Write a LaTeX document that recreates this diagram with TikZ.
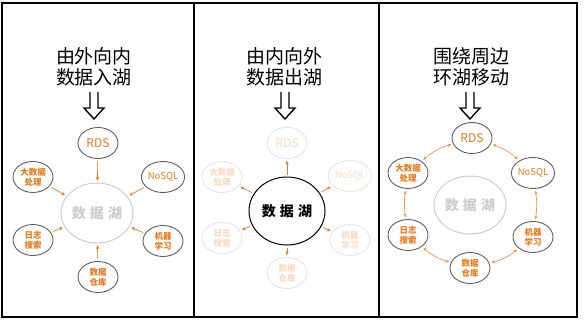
\documentclass[tikz,border=0pt]{standalone}
\usepackage{fontspec}
\setmainfont{Noto Sans CJK SC}
\newfontfamily\cnfont{Noto Sans CJK SC}
\newfontfamily\lakefont[LetterSpace=30]{Noto Sans CJK SC}
\usetikzlibrary{shapes.geometric,arrows.meta,positioning}
\definecolor{LakeOrange}{RGB}{232,122,28}
\definecolor{RingGray}{RGB}{95,95,95}
\definecolor{PaleGray}{RGB}{205,205,205}
\tikzset{
  srcbox/.style={ellipse,draw=RingGray,line width=0.9pt,inner sep=0pt,
                 minimum width=40pt,minimum height=31pt,text=LakeOrange,
                 align=center,font=\cnfont\bfseries\fontsize{8.5}{10}\selectfont},
  fadebox/.style={srcbox,draw=black!10,text=LakeOrange!28},
  lakebox/.style={ellipse,draw=PaleGray,line width=1pt,inner sep=0pt,
                  minimum width=72pt,minimum height=60pt,text=PaleGray,
                  font=\lakefont\bfseries\fontsize{14}{14}\selectfont},
  title/.style={align=center,font=\cnfont\fontsize{19}{21}\selectfont},
  bigtxt/.style={font=\cnfont\fontsize{12}{12}\selectfont},
  midtxt/.style={font=\cnfont\fontsize{9.5}{10}\selectfont},
  flow/.style={-{Stealth[length=3.5pt,width=3.5pt]},LakeOrange,line width=0.7pt,
               shorten >=2pt,shorten <=2pt},
  ring/.style={{Stealth[length=3.5pt,width=3.5pt]}-{Stealth[length=3.5pt,width=3.5pt]},
               LakeOrange!80,line width=0.7pt,shorten >=2pt,shorten <=2pt},
  hollow/.style={line width=1.4pt,line join=miter},
}

\begin{document}
\begin{tikzpicture}[x=1pt,y=-1pt]
    \useasboundingbox (0,0) rectangle (584,321);

    % Frame and dividers
    \draw[line width=1.8pt] (2,3) rectangle (577,317);
    \draw[line width=1.4pt] (194,3) -- (194,317);
    \draw[line width=1.4pt] (379,3) -- (379,317);

    % Panel 1: into the lake
    \node[title] (t1) at (94,67) {由外向内\\数据入湖};
    \draw[hollow] (90,92) -- (90,108) -- (84,108) -- (94,119) -- (104,108) -- (98,108) -- (98,92);
    \node[lakebox] (lake1) at (97,213) {数据湖};
    \node[srcbox,bigtxt] (rds1) at (98,143) {RDS};
    \node[srcbox] (big1) at (33,177) {大数据\\处理};
    \node[srcbox,midtxt] (nosql1) at (163,177) {NoSQL};
    \node[srcbox] (log1) at (33,240) {日志\\搜索};
    \node[srcbox] (ml1) at (163,241) {机器\\学习};
    \node[srcbox] (dw1) at (98,277) {数据\\仓库};
    \draw[flow] (rds1) -- (lake1);
    \draw[flow] (big1) -- (lake1);
    \draw[flow] (nosql1) -- (lake1);
    \draw[flow] (log1) -- (lake1);
    \draw[flow] (ml1) -- (lake1);
    \draw[flow] (dw1) -- (lake1);

    % Panel 2: out of the lake
    \node[title] (t2) at (284,67) {由内向外\\数据出湖};
    \draw[hollow] (281,92) -- (281,108) -- (275,108) -- (285,119) -- (295,108) -- (289,108) -- (289,92);
    \node[lakebox,draw=black,text=black,minimum width=76pt,minimum height=68pt] (lake2) at (287,211) {数据湖};
    \node[fadebox,bigtxt] (rds2) at (287,143) {RDS};
    \node[fadebox] (big2) at (222,177) {大数据\\处理};
    \node[fadebox,midtxt] (nosql2) at (350,176) {NoSQL};
    \node[fadebox] (log2) at (222,238) {日志\\搜索};
    \node[fadebox] (ml2) at (350,240) {机器\\学习};
    \node[fadebox] (dw2) at (287,273) {数据\\仓库};
    \draw[flow] (lake2) -- (rds2);
    \draw[flow] (lake2) -- (big2);
    \draw[flow] (lake2) -- (nosql2);
    \draw[flow] (lake2) -- (log2);
    \draw[flow] (lake2) -- (ml2);
    \draw[flow] (lake2) -- (dw2);

    % Panel 3: around the lake
    \node[title] (t3) at (471,67) {围绕周边\\环湖移动};
    \draw[hollow] (466,92) -- (466,108) -- (460,108) -- (470,119) -- (480,108) -- (474,108) -- (474,92);
    \node[lakebox,minimum height=58pt] (lake3) at (470,205) {数据湖};
    \node[srcbox,bigtxt] (rds3) at (472,138) {RDS};
    \node[srcbox] (big3) at (408,173) {大数据\\处理};
    \node[srcbox,midtxt] (nosql3) at (533,173) {NoSQL};
    \node[srcbox] (log3) at (408,235) {日志\\搜索};
    \node[srcbox] (ml3) at (533,237) {机器\\学习};
    \node[srcbox] (dw3) at (470,268) {数据\\仓库};
    \draw[ring] (rds3) to[bend left=12] (nosql3);
    \draw[ring] (nosql3) to[bend left=8] (ml3);
    \draw[ring] (ml3) to[bend left=12] (dw3);
    \draw[ring] (dw3) to[bend left=12] (log3);
    \draw[ring] (log3) to[bend left=8] (big3);
    \draw[ring] (big3) to[bend left=12] (rds3);

\end{tikzpicture}
\end{document}
